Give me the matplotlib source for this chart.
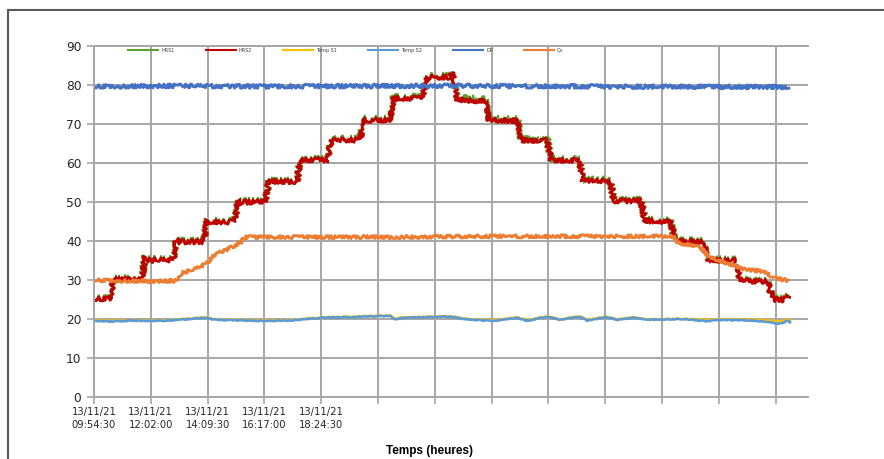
import matplotlib
matplotlib.use("Agg")
import matplotlib.pyplot as plt
from matplotlib.lines import Line2D

# temps en heures depuis 13/11/21 09:54:30
hrs_t = [0.0, 0.60, 0.71, 1.80, 1.91, 1.98, 2.96, 3.07, 3.14, 4.12, 4.23, 4.30,
         5.28, 5.39, 5.46, 6.40, 6.55, 6.62, 7.60, 7.71, 8.75, 8.87, 9.95, 10.10,
         11.07, 11.22, 12.27, 12.46, 13.32, 13.39, 13.58, 14.63, 14.78, 15.83, 15.98,
         16.95, 17.10, 18.15, 18.29, 19.31, 19.45, 20.46, 20.61, 21.55, 21.74, 22.78,
         22.97, 23.98, 24.17, 25.18, 25.40, 25.78, 26.00]
hrs1 = [25.3, 25.4, 30.4, 30.4, 36.2, 35.3, 35.3, 40.8, 40.0, 40.0, 45.6, 45.1,
        45.1, 50.6, 50.2, 50.2, 55.9, 55.4, 55.5, 61.0, 61.0, 66.2, 66.2, 71.3,
        71.3, 76.9, 76.9, 82.3, 82.3, 83.4, 76.8, 76.3, 71.3, 71.2, 66.1,
        66.1, 61.0, 60.9, 55.8, 55.6, 50.5, 50.5, 45.4, 45.3, 40.2, 40.1,
        35.3, 35.2, 30.0, 29.9, 25.2, 25.1, 26.0]
hrs2 = [25.1, 25.2, 30.2, 30.2, 36.0, 35.1, 35.1, 40.6, 39.8, 39.8, 45.4, 44.9,
        44.9, 50.4, 50.0, 50.0, 55.7, 55.2, 55.3, 60.8, 60.8, 65.9, 65.9, 71.0,
        71.0, 76.6, 76.6, 82.0, 82.0, 83.3, 76.2, 75.8, 71.0, 70.8, 65.8,
        65.8, 60.8, 60.6, 55.5, 55.3, 50.3, 50.3, 45.2, 45.0, 40.0, 39.8,
        35.1, 35.0, 29.8, 29.7, 25.0, 24.9, 25.8]

temp_t = [0.0, 0.60, 1.35, 2.47, 3.22, 4.15, 4.53, 6.21, 7.33, 8.46, 9.58, 11.07,
          11.26, 11.82, 13.32, 13.95, 14.93, 15.83, 16.20, 16.95, 17.43, 18.18, 18.44,
          19.19, 19.57, 20.17, 20.80, 22.04, 22.93, 23.42, 24.54, 25.18, 25.55, 25.81,
          25.93, 26.04]
temp_s1 = [19.7, 19.5, 19.7, 19.6, 19.9, 20.4, 19.9, 19.6, 19.7, 20.4, 20.6, 20.9,
           20.2, 20.5, 20.7, 20.0, 19.7, 20.4, 19.7, 20.7, 19.9, 20.7, 19.8,
           20.6, 19.9, 20.4, 19.9, 20.1, 19.7, 19.9, 19.8, 19.7, 19.4, 19.5,
           19.8, 19.5]
temp_s2 = [19.6, 19.3, 19.6, 19.5, 19.8, 20.3, 19.8, 19.5, 19.6, 20.3, 20.5, 20.8,
           20.0, 20.4, 20.6, 19.9, 19.5, 20.3, 19.5, 20.6, 19.8, 20.6, 19.6,
           20.5, 19.8, 20.3, 19.8, 20.0, 19.4, 19.8, 19.6, 19.3, 18.8, 19.0,
           19.6, 19.2]

dp_t = [0.0, 3.2, 6.5, 13.0, 19.5, 26.0]
dp = [79.6, 79.8, 79.6, 79.8, 79.6, 79.5]

qv_t = [0.0, 0.97, 2.10, 3.14, 3.29, 3.78, 4.23, 4.45, 5.09, 5.46, 5.65, 7.71,
        11.45, 15.19, 18.93, 21.66, 21.85, 22.67, 23.05, 23.91, 24.17, 25.18, 25.36,
        25.96]
qv = [30.0, 29.8, 29.7, 29.8, 31.8, 32.8, 34.3, 36.3, 38.2, 39.5, 41.0, 41.0,
      41.0, 41.2, 41.2, 41.2, 39.6, 38.3, 35.8, 33.8, 33.0, 32.0, 30.6, 29.9]

x_labels = ["13/11/21\n09:54:30", "13/11/21\n12:02:00", "13/11/21\n14:09:30",
            "13/11/21\n16:17:00", "13/11/21\n18:24:30"]

fig = plt.figure(figsize=(8.84, 4.59), dpi=100)
ax = fig.add_axes([94/884, 1-397/459, (808-94)/884, (397-46)/459])

grid_c = "#A6A6A6"
l1, = ax.plot(hrs_t, hrs1, color="#5FA033", lw=1.4, label="HRS1")
l2, = ax.plot(hrs_t, hrs2, color="#C00000", lw=2.0, label="HRS2")
l3, = ax.plot(temp_t, temp_s1, color="#FFC000", lw=1.8, label="Temp S1")
l4, = ax.plot(temp_t, temp_s2, color="#5B9BD5", lw=1.8, label="Temp S2")
l5, = ax.plot(dp_t, dp, color="#4472C4", lw=2.0, label="DP")
l6, = ax.plot(qv_t, qv, color="#ED7D31", lw=2.0, label="Qv")

# bruit du signal : rendu "sketch"
l1.set_sketch_params(3.5, 0.5, 16)
l2.set_sketch_params(2.2, 0.5, 16)
l3.set_sketch_params(0.4, 1.0, 8)
l4.set_sketch_params(0.4, 1.0, 8)
l5.set_sketch_params(2.0, 0.5, 16)
l6.set_sketch_params(1.6, 0.5, 16)

step = 2.125
ax.set_xlim(0, 26.71)
ax.set_ylim(0, 90)
ax.set_yticks(range(0, 91, 10))
ax.set_xticks([i * step for i in range(13)])
ax.set_xticklabels(x_labels + [""] * 8, fontsize=7.2, linespacing=1.45, color="#262626")
ax.tick_params(axis="y", labelsize=8.8, labelcolor="#262626", length=5, width=1.2, color=grid_c, pad=4)
ax.tick_params(axis="x", length=5, width=1.2, color=grid_c, pad=2)
ax.grid(True, color=grid_c, lw=1.4)
ax.set_axisbelow(True)
ax.spines["right"].set_visible(False)
for s in ["left", "bottom", "top"]:
    ax.spines[s].set_color(grid_c)
    ax.spines[s].set_linewidth(1.4)

fs = 3.5
leg = fig.legend(handles=[l1, l2, l3, l4, l5, l6], ncol=6, fontsize=fs, frameon=False,
                 loc="upper left", bbox_to_anchor=(128/884, 1-48/459),
                 handlelength=6.2, handletextpad=0.6, columnspacing=6.4,
                 borderpad=0, borderaxespad=0)
for h in leg.legend_handles:
    h.set_sketch_params(None)
    h.set_linewidth(1.5)
for t in leg.get_texts():
    t.set_color("#404040")

fig.text(430/884, 1-451/459, "Temps (heures)", ha="center", va="center",
         fontsize=8.5, fontweight="bold", family="Liberation Sans")

# cadre de la zone graphique
fig.add_artist(Line2D([8/884, 1], [1-10/459]*2, transform=fig.transFigure, color="#595959", lw=1.5))
fig.add_artist(Line2D([8/884]*2, [0, 1-10/459], transform=fig.transFigure, color="#595959", lw=1.5))

fig.savefig("out.png", dpi=100)
